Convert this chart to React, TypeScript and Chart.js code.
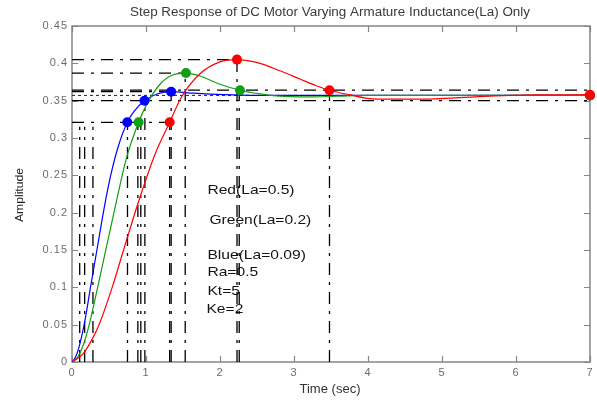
import React, { useEffect, useRef } from 'react';
import { Chart, registerables } from 'chart.js';

Chart.register(...registerables);

// ---------- text ----------
const TITLE = 'Step Response of DC Motor Varying Armature Inductance(La) Only';
const X_LABEL = 'Time (sec)';
const Y_LABEL = 'Amplitude';
const NOTE_TEXTS = ['Red(La=0.5)', 'Green(La=0.2)', 'Blue(La=0.09)', 'Ra=0.5', 'Kt=5', 'Ke=2'];
const NOTE_X = [1.83, 1.857, 1.83, 1.83, 1.83, 1.817];
const NOTE_Y = [0.2304, 0.1902, 0.1433, 0.1205, 0.0951, 0.071];

// ---------- axes ----------
const X_MIN = 0;
const X_MAX = 7;
const X_STEP = 1;
const Y_MIN = 0;
const Y_MAX = 0.45;
const Y_STEP = 0.05;

// ---------- step responses ----------
const blueT = [0, 0.045, 0.095, 0.17, 0.25, 0.34, 0.455, 0.53, 0.62, 0.747, 0.85, 0.98, 1.15, 1.34, 1.64, 2.05, 2.5, 3, 4, 5, 6, 7];
const blueV = [0, 0.006, 0.02, 0.053, 0.1, 0.152, 0.217, 0.253, 0.287, 0.321, 0.337, 0.35, 0.359, 0.362, 0.36, 0.358, 0.357, 0.357, 0.357, 0.357, 0.357, 0.357];

const greenT = [0, 0.08, 0.15, 0.23, 0.34, 0.45, 0.6, 0.733, 0.9, 1.01, 1.18, 1.35, 1.54, 1.73, 2.0, 2.27, 2.54, 2.8, 3.2, 3.6, 4, 5, 6, 7];
const greenV = [0, 0.007, 0.022, 0.049, 0.097, 0.147, 0.215, 0.272, 0.321, 0.345, 0.371, 0.384, 0.387, 0.383, 0.372, 0.364, 0.359, 0.356, 0.355, 0.356, 0.357, 0.357, 0.357, 0.357];

const redT = [0, 0.15, 0.28, 0.374, 0.553, 0.7, 0.9, 1.125, 1.32, 1.48, 1.73, 2.0, 2.23, 2.54, 2.81, 3.08, 3.3, 3.48, 3.75, 4.06, 4.46, 4.9, 5.5, 6.27, 7];
const redV = [0, 0.011, 0.032, 0.052, 0.103, 0.151, 0.215, 0.279, 0.321, 0.355, 0.386, 0.402, 0.405, 0.4, 0.39, 0.379, 0.37, 0.364, 0.358, 0.3525, 0.352, 0.3525, 0.3555, 0.3577, 0.358];

// ---------- characteristic markers ----------
const blueMarkT = [0.747, 0.98, 1.34, 7];
const blueMarkV = [0.321, 0.35, 0.362, 0.357];
const greenMarkT = [0.9, 1.54, 2.27, 7];
const greenMarkV = [0.321, 0.387, 0.364, 0.357];
const redMarkT = [1.32, 2.23, 3.48, 7];
const redMarkV = [0.321, 0.405, 0.364, 0.358];

// ---------- guide lines ----------
const vGuideT = [0.104, 0.171, 0.283, 0.75, 0.89, 0.93, 0.985, 1.32, 1.34, 1.53, 2.23, 2.26, 3.48];
const vGuideTop = [0.315, 0.315, 0.315, 0.321, 0.321, 0.321, 0.35, 0.321, 0.362, 0.387, 0.405, 0.364, 0.364];
const hGuideV = [0.321, 0.362, 0.387, 0.405];
const hGuideEnd = [1.32, 1.34, 1.54, 2.23];
const bandV = [0.364, 0.35];
const finalV = [0.357];

// ---------- styles ----------
const BLUE = '#0000ff';
const GREEN = '#10a010';
const RED = '#ff0000';
const GUIDE = '#000000';
const FRAME = '#858585';
const TICK_TEXT = '#6c6c6c';
const FONT = '"Liberation Sans", Arial, sans-serif';

const pts = (xs: number[], ys: number[]) => xs.map((x, i) => ({ x, y: ys[i] }));

function drawText(
  ctx: CanvasRenderingContext2D,
  text: string,
  x: number,
  y: number,
  font: string,
  color: string,
  opts: { width?: number; sx?: number; align?: CanvasTextAlign; rotate?: number } = {}
) {
  ctx.save();
  ctx.letterSpacing = '0px';
  ctx.font = font;
  ctx.fillStyle = color;
  ctx.textBaseline = 'middle';
  ctx.textAlign = opts.align || 'left';
  let sx = opts.sx || 1;
  if (opts.width) sx = opts.width / ctx.measureText(text).width;
  ctx.translate(x, y);
  if (opts.rotate) ctx.rotate(opts.rotate);
  ctx.scale(sx, 1);
  ctx.fillText(text, 0, 0);
  ctx.restore();
}

const framePlugin = {
  id: 'matlabFrame',
  beforeDraw(chart: any) {
    chart.ctx.letterSpacing = '1px';
  },
  beforeDatasetsDraw(chart: any) {
    const { ctx, chartArea: a, scales } = chart;
    const xs = scales.x;
    const ys = scales.y;
    ctx.save();
    ctx.letterSpacing = '0px';
    // annotations (under guide lines)
    NOTE_TEXTS.forEach((t, i) => {
      drawText(ctx, t, xs.getPixelForValue(NOTE_X[i]), ys.getPixelForValue(NOTE_Y[i]), '13px ' + FONT, '#141414', { sx: 1.2 });
    });
    // frame
    ctx.strokeStyle = FRAME;
    ctx.lineWidth = 1.5;
    ctx.strokeRect(a.left, a.top, a.right - a.left, a.bottom - a.top);
    // inward ticks
    ctx.lineWidth = 1.2;
    const L = 6;
    ctx.beginPath();
    xs.ticks.forEach((t: any) => {
      const px = Math.round(xs.getPixelForValue(t.value)) + 0.5;
      ctx.moveTo(px, a.bottom);
      ctx.lineTo(px, a.bottom - L);
      ctx.moveTo(px, a.top);
      ctx.lineTo(px, a.top + L);
    });
    ys.ticks.forEach((t: any) => {
      const py = Math.round(ys.getPixelForValue(t.value)) + 0.5;
      ctx.moveTo(a.left, py);
      ctx.lineTo(a.left + L, py);
      ctx.moveTo(a.right, py);
      ctx.lineTo(a.right - L, py);
    });
    ctx.stroke();
    // title and axis labels
    drawText(ctx, TITLE, a.left + 258, 13, '12px ' + FONT, '#3a3a3a', { width: 400, align: 'center' });
    drawText(ctx, X_LABEL, a.left + 258, 390, '12px ' + FONT, '#333333', { width: 61, align: 'center' });
    drawText(ctx, Y_LABEL, 20, 195, '10px ' + FONT, '#222222', { width: 54, align: 'center', rotate: -Math.PI / 2 });
    ctx.restore();
  },
  afterDraw(chart: any) {
    chart.ctx.letterSpacing = '0px';
  },
};

export default function App() {
  const ref = useRef<HTMLCanvasElement | null>(null);

  useEffect(() => {
    if (!ref.current) return;
    Chart.defaults.font.family = FONT;

    const guideStyle = {
      showLine: true,
      borderColor: GUIDE,
      borderWidth: 1.3,
      borderDash: [12, 7, 3, 7],
      pointRadius: 0,
      order: 3,
    };

    const guides: any[] = [];
    vGuideT.forEach((t, i) => {
      guides.push({ ...guideStyle, data: [{ x: t, y: Y_MIN }, { x: t, y: vGuideTop[i] }] });
    });
    hGuideV.forEach((v, i) => {
      guides.push({ ...guideStyle, data: [{ x: X_MIN, y: v }, { x: hGuideEnd[i], y: v }] });
    });
    bandV.forEach((v) => {
      guides.push({ ...guideStyle, data: [{ x: X_MIN, y: v }, { x: X_MAX, y: v }] });
    });
    finalV.forEach((v) => {
      guides.push({
        ...guideStyle,
        borderColor: '#333333',
        borderWidth: 1.1,
        borderDash: [3, 3],
        data: [{ x: X_MIN, y: v }, { x: X_MAX, y: v }],
      });
    });

    const curve = (xs: number[], ys: number[], color: string) => ({
      data: pts(xs, ys),
      showLine: true,
      borderColor: color,
      borderWidth: 1.2,
      pointRadius: 0,
      cubicInterpolationMode: 'monotone',
      order: 1,
    });

    const marks = (xs: number[], ys: number[], color: string, order: number) => ({
      data: pts(xs, ys),
      showLine: false,
      pointRadius: 5,
      pointStyle: 'circle',
      backgroundColor: color,
      borderColor: color,
      borderWidth: 0,
      clip: false,
      order,
    });

    const chart = new Chart(ref.current, {
      type: 'scatter',
      data: {
        datasets: [
          marks(redMarkT, redMarkV, RED, -3),
          marks(greenMarkT, greenMarkV, GREEN, -2),
          marks(blueMarkT, blueMarkV, BLUE, -1),
          curve(redT, redV, RED),
          curve(greenT, greenV, GREEN),
          curve(blueT, blueV, BLUE),
          ...guides,
        ] as any,
      },
      options: {
        animation: false,
        responsive: false,
        events: [],
        layout: { padding: { top: 26, right: 5, left: 0, bottom: 0 } },
        plugins: {
          legend: { display: false },
          tooltip: { enabled: false },
          title: { display: false },
        },
        scales: {
          x: {
            type: 'linear',
            min: X_MIN,
            max: X_MAX,
            grid: { display: false, drawTicks: false },
            border: { display: false },
            ticks: {
              stepSize: X_STEP,
              color: TICK_TEXT,
              font: { family: FONT, size: 11 },
              padding: 4,
              maxRotation: 0,
            },
            afterFit: (s: any) => {
              s.height = 38;
            },
          },
          y: {
            type: 'linear',
            min: Y_MIN,
            max: Y_MAX,
            grid: { display: false, drawTicks: false },
            border: { display: false },
            ticks: {
              stepSize: Y_STEP,
              color: TICK_TEXT,
              font: { family: FONT, size: 11 },
              padding: 4,
              callback: (v: any) => String(Number(Number(v).toFixed(2))),
            },
            afterFit: (s: any) => {
              s.width = 72;
            },
          },
        },
      } as any,
      plugins: [framePlugin],
    });

    return () => chart.destroy();
  }, []);

  return (
    <div style={{ position: 'fixed', left: 0, top: 0, width: 597, height: 400, background: '#ffffff' }}>
      <canvas ref={ref} width={597} height={400} style={{ display: 'block' }} />
    </div>
  );
}
